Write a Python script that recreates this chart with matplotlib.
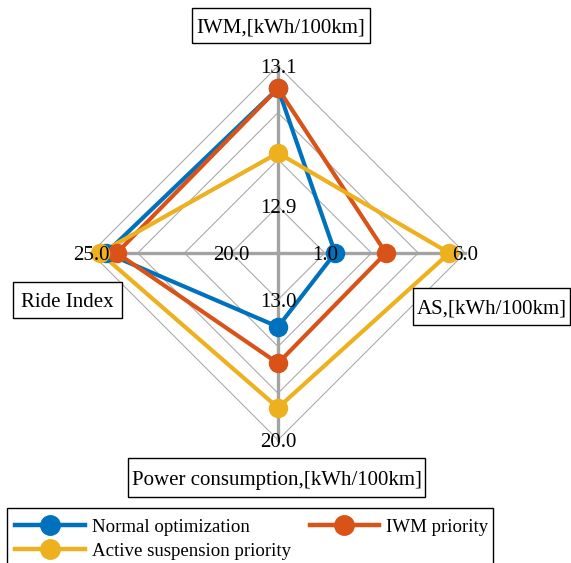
import numpy as np
import matplotlib
matplotlib.use("Agg")
import matplotlib.pyplot as plt
from matplotlib.lines import Line2D
from matplotlib.patches import Rectangle

plt.rcParams['font.family'] = ['Liberation Serif', 'DejaVu Serif']

# Spider axes: order runs counter-clockwise starting at the top
categories = ['IWM,[kWh/100km]', 'Ride Index',
              'Power consumption,[kWh/100km]', 'AS,[kWh/100km]']
axis_min = [12.9, 20.0, 13.0, 1.0]
axis_max = [13.1, 25.0, 20.0, 6.0]

series_names = ['Normal optimization', 'IWM priority', 'Active suspension priority']
normal_opt = [13.068, 24.46, 14.35, 1.37]
iwm_priority = [13.068, 24.08, 16.17, 3.18]
active_susp = [12.976, 24.68, 18.39, 5.44]
series_colors = ['#0072BD', '#D95319', '#EDB120']

W, H = 571, 563
CX, CY, R = 278.0, 253.0, 187.0   # plot centre and outer radius in pixels

fig = plt.figure(figsize=(W / 100, H / 100), dpi=100)
ax = fig.add_axes([0, 0, 1, 1])
ax.set_xlim(-CX / R, (W - CX) / R)
ax.set_ylim(-(H - CY) / R, CY / R)
ax.axis('off')

n_axes = len(categories)
angles = np.deg2rad(90 + 90 * np.arange(n_axes))
n_rings = 4
ring_levels = np.arange(1, n_rings + 1) / n_rings   # first ring holds the minimum


def to_radius(values):
    v = np.asarray(values, dtype=float)
    lo = np.asarray(axis_min)
    hi = np.asarray(axis_max)
    return ring_levels[0] + (1 - ring_levels[0]) * (v - lo) / (hi - lo)


def fig_box(cx, cy, w, h):
    """Black-edged white box given in pixel units (origin top-left)."""
    return Rectangle(((cx - w / 2) / W, 1 - (cy + h / 2) / H), w / W, h / H,
                     transform=fig.transFigure, fc='white', ec='black', lw=1.0,
                     zorder=5)


# grid rings
for lvl in ring_levels:
    xs = np.r_[lvl * np.cos(angles), lvl * np.cos(angles[0])]
    ys = np.r_[lvl * np.sin(angles), lvl * np.sin(angles[0])]
    ax.plot(xs, ys, color='#ababab', lw=0.8, zorder=1)

# spokes
for a in angles:
    ax.plot([0, np.cos(a)], [0, np.sin(a)], color='#a3a3a3', lw=2.4, zorder=2)

# data polygons
all_series = [normal_opt, iwm_priority, active_susp]
handles = []
for vals, col, name in zip(all_series, series_colors, series_names):
    r = to_radius(vals)
    xs = np.r_[r * np.cos(angles), r[0] * np.cos(angles[0])]
    ys = np.r_[r * np.sin(angles), r[0] * np.sin(angles[0])]
    ax.plot(xs, ys, color=col, lw=3.0, zorder=3)
    ax.plot(xs[:-1], ys[:-1], 'o', color=col, ms=13, zorder=4)
    handles.append(Line2D([], [], color=col, lw=3.2, marker='o', ms=14, label=name))

# axis range labels (min on first ring, max on outer ring)
for k, a in enumerate(angles):
    for lvl, val in ((ring_levels[0], axis_min[k]), (ring_levels[-1], axis_max[k])):
        ax.text(lvl * np.cos(a), lvl * np.sin(a), f'{val:.1f}', ha='center',
                va='center_baseline', fontsize=15, zorder=6)

# boxed axis titles: (centre x, centre y, box width, box height) in pixels
title_boxes = [(281, 25.5, 178, 35), (67.5, 300, 109, 36),
               (276.5, 477.5, 297, 39), (491.5, 306.5, 157, 37)]
for name, (px, py, bw, bh) in zip(categories, title_boxes):
    fig.add_artist(fig_box(px, py, bw, bh))
    fig.text(px / W, 1 - py / H, name, ha='center', va='center_baseline',
             fontsize=15, zorder=6)

# legend frame runs past the bottom edge
fig.add_artist(fig_box(250, 540, 486, 64))
leg = fig.legend(handles=[handles[0], handles[2], handles[1]], ncol=2,
                 loc='upper left', bbox_to_anchor=(15 / W, 1 - 518.5 / H),
                 fontsize=13.6, frameon=False,
                 handlelength=3.7, handletextpad=0.35, columnspacing=1.0,
                 labelspacing=0.36, borderpad=0, borderaxespad=0)
leg.set_zorder(7)

fig.savefig('out.png', dpi=100)
